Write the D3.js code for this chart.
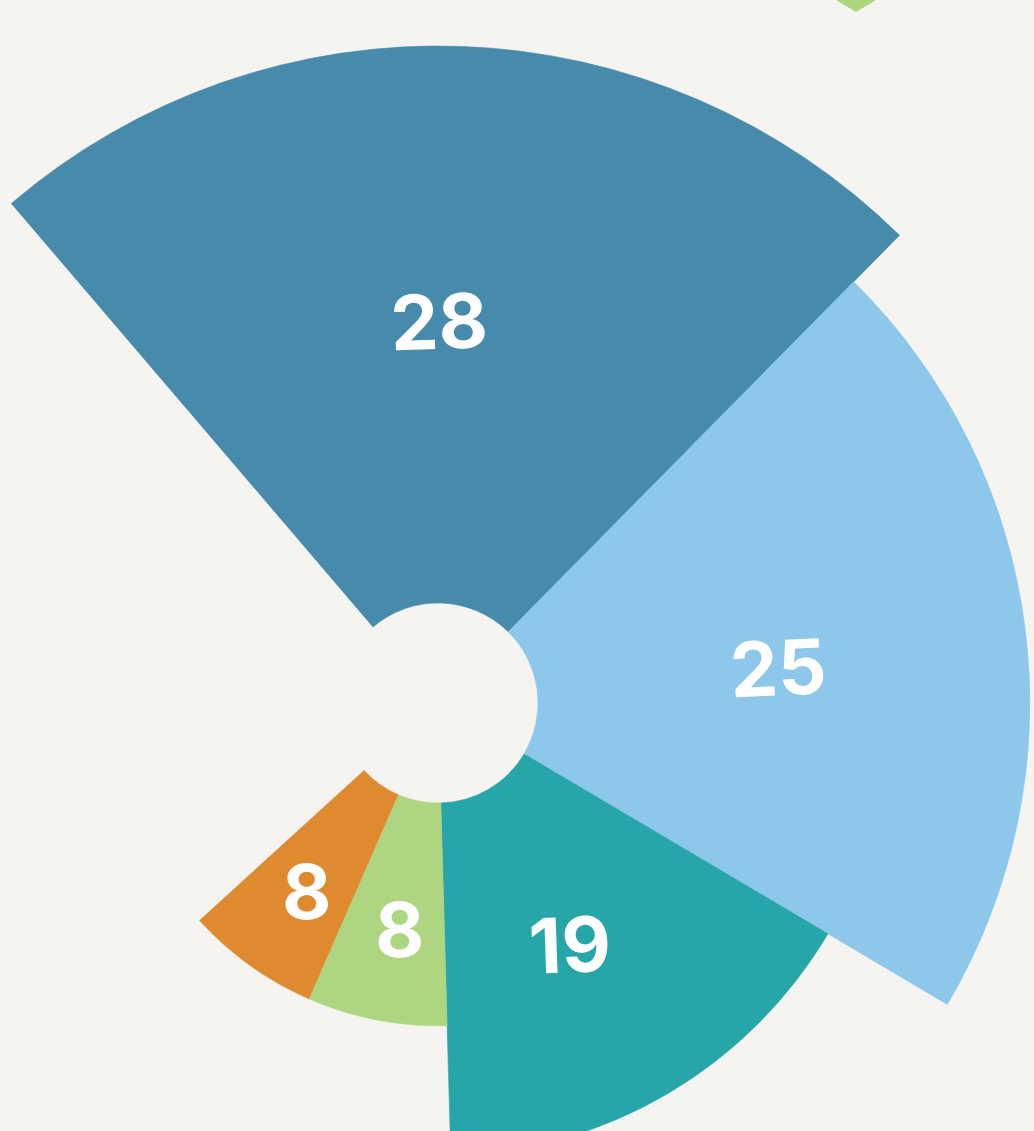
<!DOCTYPE html>
<html><head><meta charset="utf-8">
<script src="https://cdn.jsdelivr.net/npm/d3@7"></script>
<style>
html,body{margin:0;padding:0;background:#F5F4F0;overflow:hidden;}
svg{display:block;}
</style></head>
<body>
<svg id="chart" width="1034" height="1131"></svg>
<script>
// ---- data ----
const categories = ["A", "B", "C", "D", "E"];
const values = [28, 25, 19, 8.3, 7.9];           // angular size (labels rounded)
const radiusValues = [100, 88.3, 63.4, 40, 40];  // radial magnitude
const colors = ["#468BAB", "#8DC7EA", "#26A6A9", "#AED57F", "#E08A2F"];

// label styling (not data)
const labelTilt = [-2, -2.5, -2, 0, 0];
const labelAngleNudge = [-1.9, 1.5, 1.9, -1.4, -0.8];
const labelRadiusNudge = [3, -4, -1, 0, 0];

const W = 1034, H = 1131;
const cx = 438, cy = 703;
const innerR = 100;
const deg = Math.PI / 180;
const startAngle = -40.5 * deg;
const degPerUnit = 3.04;

const svg = d3.select("#chart");
svg.append("rect").attr("width", W).attr("height", H).attr("fill", "#F5F4F0");

const total = d3.sum(values);
const aScale = d3.scaleLinear().domain([0, total]).range([startAngle, startAngle + total * degPerUnit * deg]);
const rScale = d3.scaleLinear().domain([0, 100]).range([innerR, 657]);

let cum = 0;
const slices = values.map((v, i) => {
  const s = { i, v, a0: aScale(cum), a1: aScale(cum + v), r: rScale(radiusValues[i]) };
  cum += v;
  return s;
});

const g = svg.append("g").attr("transform", `translate(${cx},${cy})`);
const arc = d3.arc().innerRadius(innerR).outerRadius(d => d.r).startAngle(d => d.a0).endAngle(d => d.a1);

g.selectAll("path.slice").data(slices).join("path")
  .attr("class", "slice")
  .attr("d", arc)
  .attr("fill", d => colors[d.i])
  .attr("stroke", d => colors[d.i])
  .attr("stroke-width", 0.6);

g.selectAll("text.lbl").data(slices).join("text")
  .attr("class", "lbl")
  .attr("transform", d => {
    const mid = (d.a0 + d.a1) / 2 + labelAngleNudge[d.i] * deg;
    const lr = Math.max((innerR + d.r) / 2, 230) + labelRadiusNudge[d.i];
    const x = Math.sin(mid) * lr, y = -Math.cos(mid) * lr;
    return `translate(${x},${y}) rotate(${labelTilt[d.i]})`;
  })
  .attr("text-anchor", "middle")
  .attr("dy", "0.36em")
  .attr("fill", "#ffffff")
  .attr("font-family", "Inter, 'Noto Sans', sans-serif")
  .attr("font-weight", 700)
  .attr("font-size", 76)
  .text(d => Math.round(d.v));

// partially visible legend marker (top)
svg.append("path")
  .attr("d", "M836,0 L856,-12 L876,0 L856,12 Z")
  .attr("fill", colors[3]);
</script>
</body></html>
